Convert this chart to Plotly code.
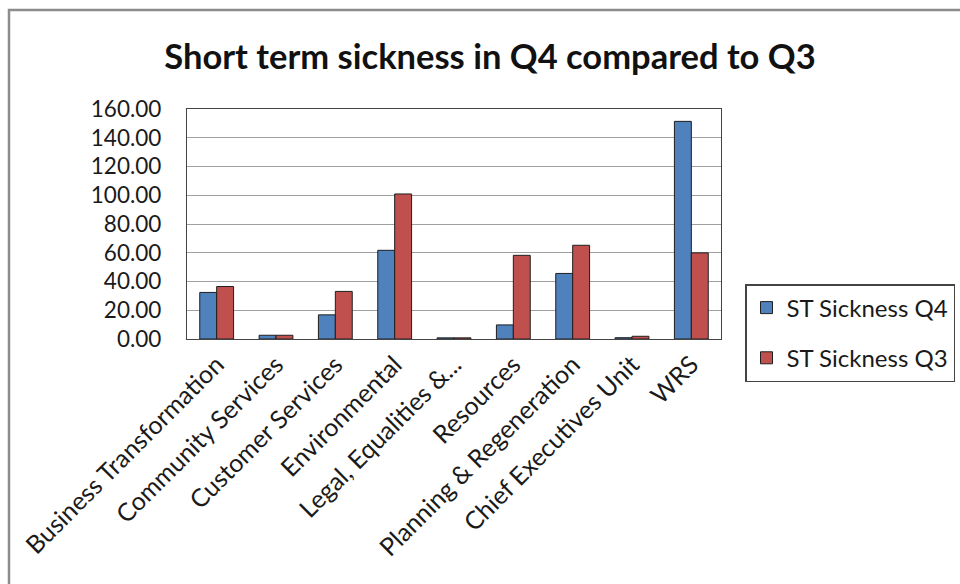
import plotly.graph_objects as go

# Directorate names and short-term sickness totals per quarter
departments = [
    "Business Transformation",
    "Community Services",
    "Customer Services",
    "Environmental",
    "Legal, Equalities &...",
    "Resources",
    "Planning & Regeneration",
    "Chief Executives Unit",
    "WRS",
]
st_sickness_q4 = [32.4, 2.6, 16.8, 61.7, 0.8, 9.8, 45.6, 0.9, 151.4]
st_sickness_q3 = [36.5, 2.6, 33.1, 100.9, 0.8, 58.2, 65.2, 1.9, 59.9]

y_ticks = [0, 20, 40, 60, 80, 100, 120, 140, 160]

FONT = "Lato"
W, H = 960, 584
PLOT_L, PLOT_R, PLOT_T, PLOT_B = 187, 721, 109, 339


def px_to_paper_x(px):
    return (px - PLOT_L) / (PLOT_R - PLOT_L)


def px_to_paper_y(py):
    return (PLOT_B - py) / (PLOT_B - PLOT_T)


fig = go.Figure()
fig.add_trace(go.Bar(
    x=departments, y=st_sickness_q4, name="ST Sickness Q4",
    marker=dict(color="#4F81BD", line=dict(color="#1f1f1f", width=1)),
    legendgroup="q4",
))
fig.add_trace(go.Bar(
    x=departments, y=st_sickness_q3, name="ST Sickness Q3",
    marker=dict(color="#C0504D", line=dict(color="#1f1f1f", width=1)),
    legendgroup="q3",
))

fig.update_layout(
    width=W, height=H,
    margin=dict(l=PLOT_L, r=W - PLOT_R, t=PLOT_T, b=H - PLOT_B,
                autoexpand=False),
    paper_bgcolor="white", plot_bgcolor="white",
    font=dict(family=FONT, size=22, color="#1a1a1a"),
    barmode="group", bargap=0.43, bargroupgap=0,
    title=dict(
        text="<b>Short term sickness in Q4 compared to Q3</b>",
        font=dict(family=FONT, size=34.5, color="#111"),
        x=490 / W, xref="container", xanchor="center",
        y=1 - 57 / H, yref="container", yanchor="middle",
    ),
    legend=dict(
        x=px_to_paper_x(955), y=px_to_paper_y(284),
        xanchor="right", yanchor="top",
        bordercolor="#444", borderwidth=1.5, bgcolor="white",
        font=dict(family=FONT, size=24, color="#1a1a1a"),
        tracegroupgap=16,
        traceorder="grouped",
    ),
    showlegend=True,
)

fig.update_yaxes(
    range=[0, 160], tickvals=y_ticks, tickformat=".2f",
    showgrid=True, gridcolor="#a0a0a0", gridwidth=1.3,
    showline=True, linecolor="#444", linewidth=1.3, mirror=True,
    ticks="", ticklabelstandoff=20,
    tickfont=dict(family=FONT, size=22.5, color="#1a1a1a"),
    zeroline=False,
)
fig.update_xaxes(
    tickangle=-45,
    showline=True, linecolor="#444", linewidth=1.3, mirror=True,
    ticks="", showgrid=False,
    tickfont=dict(family=FONT, size=25, color="#1a1a1a"),
)

# Outer chart-area frame (top and left edges visible within the canvas)
fig.add_shape(
    type="rect", xref="paper", yref="paper",
    x0=px_to_paper_x(9), x1=px_to_paper_x(W + 20),
    y0=px_to_paper_y(H + 20), y1=px_to_paper_y(10),
    line=dict(color="#8c8c8c", width=2.5), fillcolor="rgba(0,0,0,0)",
    layer="below",
)

fig.write_html("out.html")
